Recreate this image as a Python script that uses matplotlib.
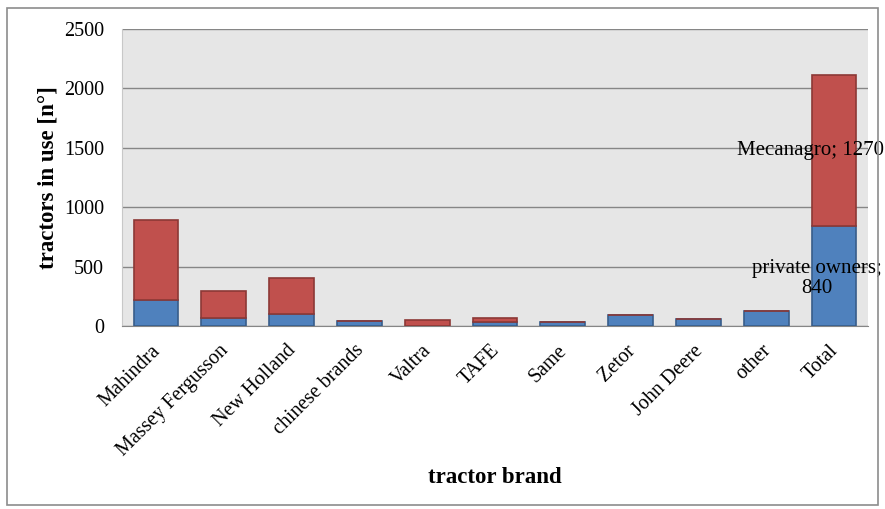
import matplotlib
matplotlib.use("Agg")
import matplotlib.pyplot as plt
import matplotlib.transforms as mtransforms
from matplotlib.patches import Rectangle

brands = ["Mahindra", "Massey Fergusson", "New Holland", "chinese brands", "Valtra",
          "TAFE", "Same", "Zetor", "John Deere", "other", "Total"]
private_owners = [215, 65, 105, 45, 0, 30, 35, 95, 60, 125, 840]
mecanagro = [675, 230, 300, 0, 50, 40, 0, 0, 0, 0, 1270]
yticks = [0, 500, 1000, 1500, 2000, 2500]

plt.rcParams['font.family'] = ['Liberation Serif', 'DejaVu Serif']

fig = plt.figure(figsize=(8.85, 5.09), dpi=100)
fig.patches.append(Rectangle((7/885, 4/509), 871/885, 497/509, transform=fig.transFigure,
                             fill=False, edgecolor='#8c8c8c', linewidth=1.2))
ax = fig.add_axes([122/885, (509-326)/509, 746/885, 297/509])
ax.set_facecolor('#e6e6e6')

x = list(range(len(brands)))
ax.bar(x, private_owners, width=0.66, color='#4f81bd', edgecolor='#385d8a', linewidth=1.2, zorder=3)
ax.bar(x, mecanagro, width=0.66, bottom=private_owners, color='#c0504d', edgecolor='#8c3836',
       linewidth=1.2, zorder=3)

ax.set_xlim(-0.5, len(brands) - 0.5)
ax.set_ylim(0, 2500)
ax.set_yticks(yticks)
ax.set_yticklabels([str(v) for v in yticks], fontsize=14.5)
ax.yaxis.grid(True, color='#868686', linewidth=1, zorder=0)
ax.set_axisbelow(True)
ax.tick_params(axis='y', length=0, pad=13)
ax.tick_params(axis='x', length=0, pad=11)
ax.set_xticks(x)
ax.set_xticklabels(brands, rotation=45, ha='right', rotation_mode='anchor', fontsize=14.5)
offset = mtransforms.ScaledTranslation(-5/100, 0, fig.dpi_scale_trans)
for lab in ax.get_xticklabels():
    lab.set_transform(lab.get_transform() + offset)

for s in ['top', 'right']:
    ax.spines[s].set_visible(False)
ax.spines['left'].set_color('#c8c8c8')
ax.spines['bottom'].set_color('#868686')

ax.set_ylabel('tractors in use [n°]', fontsize=16.5, fontweight='bold')
ax.yaxis.set_label_coords(-0.085, 0.5)
ax.set_xlabel('tractor brand', fontsize=16.5, fontweight='bold')
ax.xaxis.set_label_coords(0.5, -0.475)

i = len(brands) - 1
ax.text(i - 0.35, private_owners[i] + mecanagro[i] / 2, f"Mecanagro; {mecanagro[i]}",
        ha='center', va='center', fontsize=15, zorder=4)
ax.text(i - 0.25, private_owners[i] / 2 - 20, f"private owners;\n{private_owners[i]}",
        ha='center', va='center', fontsize=15, zorder=4, linespacing=1.05)

fig.savefig('out.png', dpi=100)
